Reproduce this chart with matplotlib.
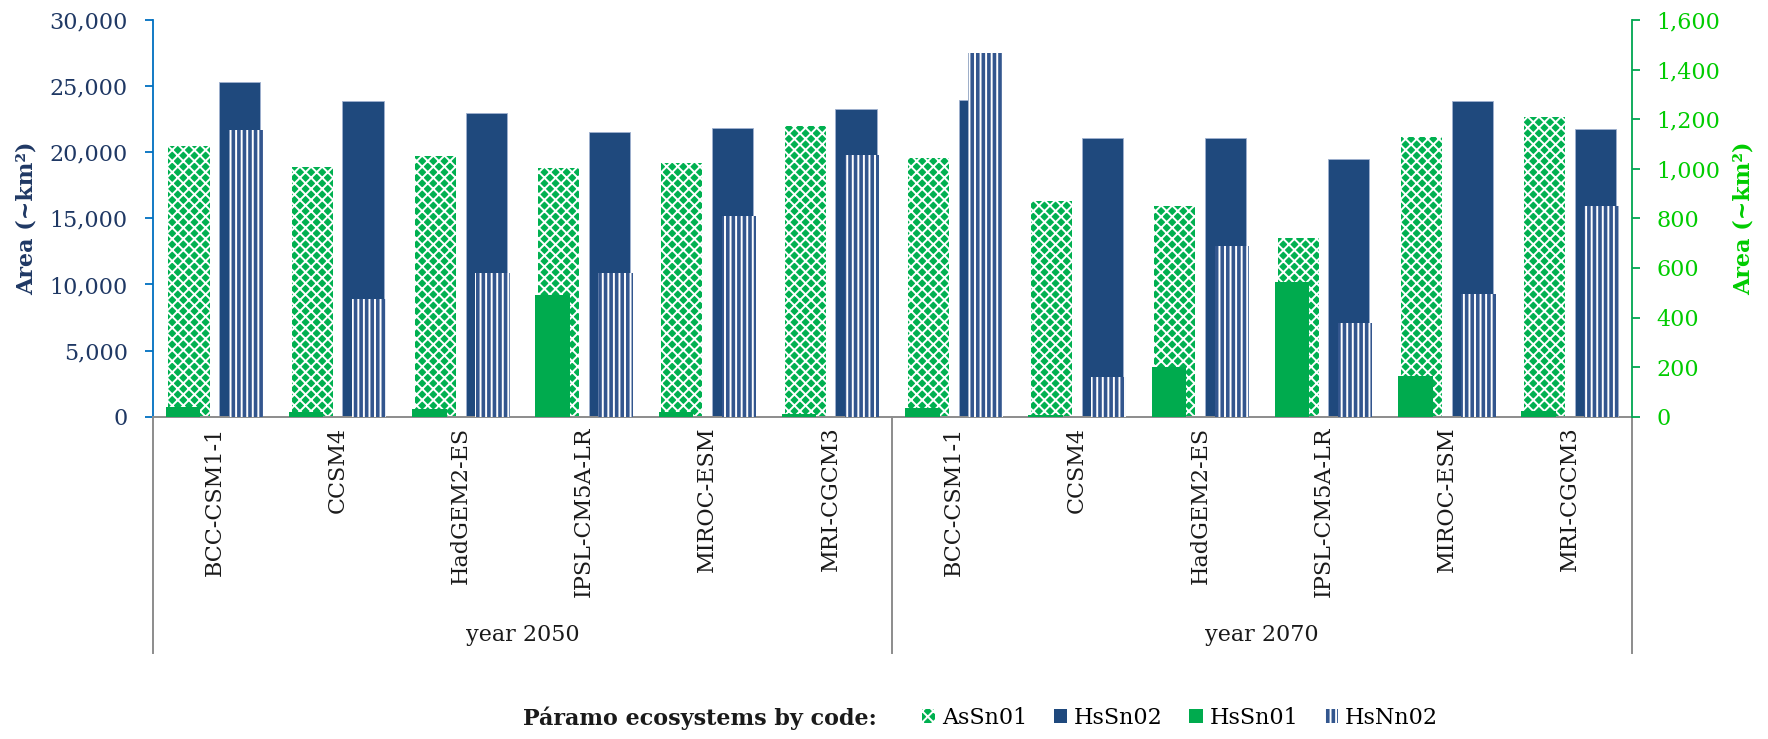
import matplotlib
matplotlib.use("Agg")
import matplotlib.pyplot as plt
import numpy as np
from matplotlib.patches import Patch
from matplotlib.ticker import FuncFormatter

plt.rcParams['font.family'] = ['DejaVu Serif']
plt.rcParams['hatch.linewidth'] = 1.4

# GCM models and projection periods
models = ["BCC-CSM1-1", "CCSM4", "HadGEM2-ES", "IPSL-CM5A-LR", "MIROC-ESM", "MRI-CGCM3"]
periods = ["year 2050", "year 2070"]

# Primary axis series (~km²)
assn01_2050 = [20500, 18850, 19750, 18800, 19200, 22000]
assn01_2070 = [19550, 16300, 15950, 13550, 21150, 22650]
hssn02_2050 = [25350, 23900, 22950, 21500, 21800, 23250]
hssn02_2070 = [23950, 21050, 21100, 19500, 23850, 21750]

# Secondary axis series (~km²)
hssn01_2050 = [40, 20, 30, 490, 20, 12]
hssn01_2070 = [35, 8, 200, 545, 165, 22]
hsnn02_2050 = [1155, 475, 578, 578, 808, 1055]
hsnn02_2070 = [1465, 160, 690, 376, 495, 850]

assn01 = assn01_2050 + assn01_2070
hssn02 = hssn02_2050 + hssn02_2070
hssn01 = hssn01_2050 + hssn01_2070
hsnn02 = hsnn02_2050 + hsnn02_2070
tick_labels = models + models

NAVY = '#1F497D'
GREEN = '#00AB4E'
HATCH_GREEN = '#00B050'
STRIPE_FACE = '#33568E'
LEFT_TXT = '#1F3864'
RIGHT_TXT = '#00CC00'

fig = plt.figure(figsize=(17.68, 7.39), dpi=100)
ax = fig.add_axes([0.0864, 0.4361, 0.8365, 0.5368])
x = np.arange(len(tick_labels))

wp, op = 0.333, 0.206
ws, os_ = 0.28, 0.256

ax.bar(x - op, assn01, width=wp, facecolor=HATCH_GREEN, edgecolor='white',
       hatch='xxx', linewidth=0)
ax.bar(x + op, hssn02, width=wp, facecolor=NAVY, edgecolor='#9FB1CF', linewidth=0.6)
ax.set_xlim(-0.5, len(x) - 0.5)
ax.set_ylim(0, 30000)
ax.set_yticks(np.arange(0, 30001, 5000))
ax.yaxis.set_major_formatter(FuncFormatter(lambda v, p: f"{v:,.0f}"))

ax2 = ax.twinx()
ax2.bar(x - os_, hssn01, width=ws, facecolor=GREEN, linewidth=0)
ax2.bar(x + os_, hsnn02, width=ws, facecolor=STRIPE_FACE, edgecolor='white',
        hatch='|||', linewidth=0)
ax2.set_ylim(0, 1600)
ax2.set_yticks(np.arange(0, 1601, 200))
ax2.yaxis.set_major_formatter(FuncFormatter(lambda v, p: f"{v:,.0f}"))

# spines
for s in ['top', 'right']:
    ax.spines[s].set_visible(False)
for s in ['top', 'left', 'bottom']:
    ax2.spines[s].set_visible(False)
ax.spines['left'].set_color('#0070C0')
ax.spines['left'].set_linewidth(1.3)
ax.spines['bottom'].set_color('#8C8C8C')
ax.spines['bottom'].set_linewidth(1.4)
ax2.spines['right'].set_color('#00A651')
ax2.spines['right'].set_linewidth(1.3)

ax.tick_params(axis='y', color='#0070C0', labelcolor=LEFT_TXT, length=6,
               width=1.3, labelsize=16, pad=12)
ax2.tick_params(axis='y', color='#00A651', labelcolor=RIGHT_TXT, length=6,
                width=1.3, labelsize=16, pad=12)
ax.set_xticks(x)
ax.set_xticklabels(tick_labels, rotation=90, fontsize=16, color='#1A1A1A')
ax.tick_params(axis='x', length=0, pad=7)

# category group separators and period labels
xt = ax.get_xaxis_transform()
for xp in [-0.5, 5.5, 11.5]:
    ax.plot([xp, xp], [0, -0.596], transform=xt, color='#8C8C8C', lw=1.4,
            clip_on=False)
for i, lab in enumerate(periods):
    ax.text(2.5 + 6 * i, -0.55, lab, transform=xt, ha='center', va='center',
            fontsize=16, color='#1A1A1A')

ax.set_ylabel("Area (~km²)", fontsize=16, fontweight='bold', color=LEFT_TXT)
ax.yaxis.set_label_coords(-0.0776, 0.5)
ax2.set_ylabel("Area (~km²)", fontsize=16, fontweight='bold', color=RIGHT_TXT)
ax2.yaxis.set_label_coords(1.0685, 0.5)

# legend
handles = [
    Patch(facecolor=HATCH_GREEN, edgecolor='white', hatch='xxx', linewidth=0),
    Patch(facecolor=NAVY, linewidth=0),
    Patch(facecolor=GREEN, linewidth=0),
    Patch(facecolor=STRIPE_FACE, edgecolor='white', hatch='|||', linewidth=0),
]
labels = ["AsSn01", "HsSn02", "HsSn01", "HsNn02"]
ly = 1 - 718 / 739
fig.text(877 / 1768, ly, "Páramo ecosystems by code:", ha='right', va='center',
         fontsize=16, fontweight='bold', color='#1A1A1A')
fig.legend(handles, labels, loc='center left', bbox_to_anchor=(0.5215, ly),
           ncol=4, frameon=False, fontsize=16, handlelength=0.6,
           handleheight=0.6, handletextpad=0.3, columnspacing=1.2,
           borderpad=0, borderaxespad=0)

fig.savefig("out.png", dpi=100)
